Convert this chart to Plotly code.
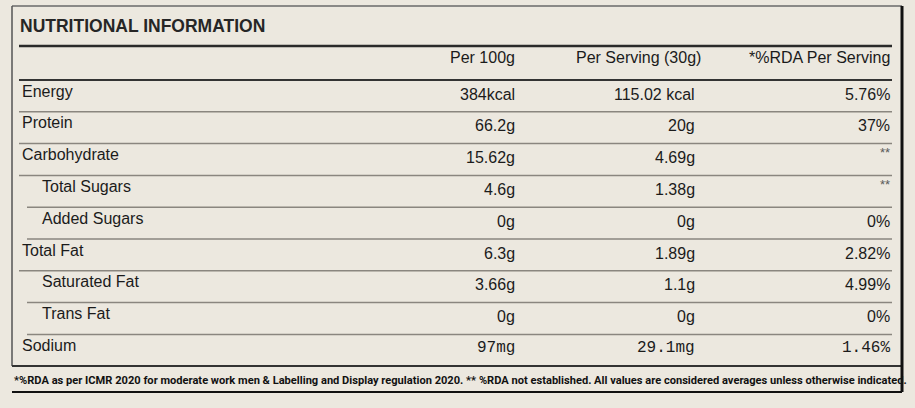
import plotly.graph_objects as go

# ---------------- data ----------------
title = "NUTRITIONAL INFORMATION"
headers = ["Per 100g", "Per Serving (30g)", "*%RDA Per Serving"]
nutrients = ["Energy", "Protein", "Carbohydrate", "Total Sugars", "Added Sugars",
             "Total Fat", "Saturated Fat", "Trans Fat", "Sodium"]
indented = [False, False, False, True, True, False, True, True, False]
per_100g = ["384kcal", "66.2g", "15.62g", "4.6g", "0g", "6.3g", "3.66g", "0g", "97mg"]
per_serving = ["115.02 kcal", "20g", "4.69g", "1.38g", "0g", "1.89g", "1.1g", "0g", "29.1mg"]
rda = ["5.76%", "37%", "**", "**", "0%", "2.82%", "4.99%", "0%", "1.46%"]
footnote = ("*%RDA as per ICMR 2020 for moderate work men &amp; Labelling and Display regulation 2020. "
            "** %RDA not established. All values are considered averages unless otherwise indicated.")

# ---------------- layout geometry (pixel space) ----------------
W, H = 915, 408
BG = "#ece8df"
INK = "#1b1b1b"
LEFT, RIGHT = 19, 892
label_x = LEFT + 1
indent_x = 40
col_x = [517, 697, 892]
header_x = [517, 703, 892]
header_y = 57
first_row_top = 80
row_h = 31.8
box = dict(x0=12, x1=902, y0=6, y1=366)
foot_y = 380
foot_line_y = 392

fig = go.Figure()
fig.add_trace(go.Scatter(x=[0, W], y=[0, H], mode="markers",
                         marker=dict(opacity=0), hoverinfo="skip", showlegend=False))

ann = []
shapes = []

def line(x0, y0, x1, y1, color, width):
    shapes.append(dict(type="line", xref="x", yref="y", x0=x0, y0=y0, x1=x1, y1=y1,
                       line=dict(color=color, width=width)))

# title
ann.append(dict(x=LEFT - 1, y=26, xref="x", yref="y", text="<b>" + title + "</b>",
                showarrow=False, xanchor="left", yanchor="middle",
                font=dict(family="Liberation Sans", size=17.5, color="#262626")))
line(LEFT, 46, RIGHT, 46, "#2a2a2a", 2.5)

# header
for hx, h in zip(header_x, headers):
    ann.append(dict(x=hx, y=header_y, xref="x", yref="y", text=h, showarrow=False,
                    xanchor="right", yanchor="middle",
                    font=dict(family="Liberation Sans", size=16, color=INK)))
line(LEFT, first_row_top, RIGHT, first_row_top, "#333333", 2)

# rows
n = len(nutrients)
for i in range(n):
    top = first_row_top + i * row_h
    mono = nutrients[i] == "Sodium"
    vfam = "Liberation Mono" if mono else "Liberation Sans"
    ann.append(dict(x=indent_x if indented[i] else label_x, y=top + 11, xref="x", yref="y",
                    text=nutrients[i], showarrow=False, xanchor="left", yanchor="middle",
                    font=dict(family="Liberation Sans", size=16, color=INK)))
    for cx, vals in zip(col_x, [per_100g, per_serving, rda]):
        v = vals[i]
        star = v == "**"
        ann.append(dict(x=cx, y=top + (9 if star else 14), xref="x", yref="y", text=v,
                        showarrow=False, xanchor="right", yanchor="middle",
                        font=dict(family=vfam, size=13 if star else 16,
                                  color="#5a5a5a" if star else INK)))
    if i < n - 1:
        x0 = 27 if indented[i] else LEFT
        line(x0, top + row_h, RIGHT, top + row_h, "#8a867f", 1.5)

# outer box
line(box["x0"], box["y0"], box["x1"], box["y0"], "#6a6a6a", 1.5)
line(box["x0"], box["y0"], box["x0"], box["y1"], "#555555", 1.5)
line(box["x0"], box["y1"], box["x1"], box["y1"], "#333333", 2)
line(box["x1"], box["y0"], box["x1"], foot_line_y, "#111111", 3)
line(box["x0"], foot_line_y, box["x1"], foot_line_y, "#111111", 2)

# footnote
ann.append(dict(x=12, y=foot_y, xref="x", yref="y", text="<b>" + footnote + "</b>",
                showarrow=False, xanchor="left", yanchor="middle",
                font=dict(family="Roboto", size=11.1, color="#111111")))

fig.update_layout(
    width=W, height=H, margin=dict(l=0, r=0, t=0, b=0),
    paper_bgcolor=BG, plot_bgcolor=BG,
    xaxis=dict(range=[0, W], visible=False, fixedrange=True),
    yaxis=dict(range=[H, 0], visible=False, fixedrange=True),
    annotations=ann, shapes=shapes, showlegend=False,
)
fig.write_html("out.html", config={"displayModeBar": False},
               post_script="document.body.style.margin='0';document.body.style.overflow='hidden';document.body.style.background='" + BG + "';")
